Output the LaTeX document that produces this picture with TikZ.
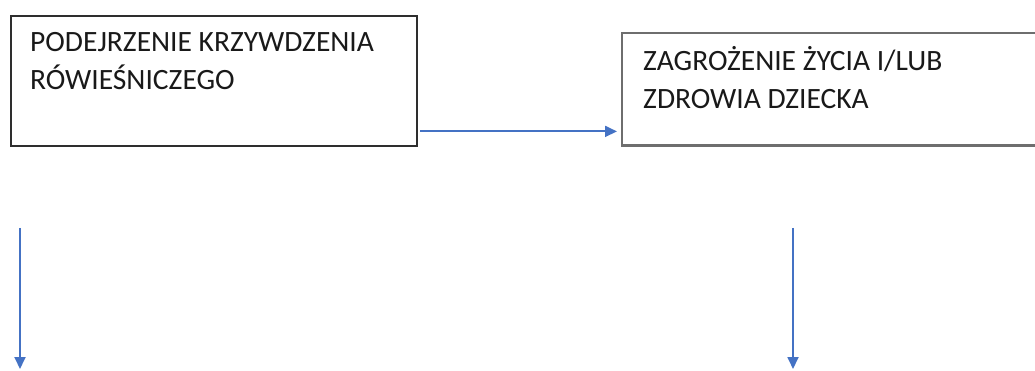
\documentclass[tikz,border=0pt]{standalone}
\usepackage{fontspec}
\setmainfont{Carlito}
\usetikzlibrary{arrows.meta,positioning}
\definecolor{linkblue}{HTML}{4472C4}
\definecolor{framedark}{HTML}{2E2E2E}
\definecolor{framegray}{HTML}{6E6E6E}
\tikzset{
    frame/.style={draw=framedark, line width=2.4pt, anchor=north west, inner sep=0pt},
    boxtext/.style={anchor=north west, inner sep=0pt, align=left, text=black!90,
        font=\fontsize{29.5}{38}\selectfont},
    link/.style={draw=linkblue, line width=1.8pt, -{Triangle[length=12pt,width=11pt]}}
}
\begin{document}
\begin{tikzpicture}[x=1pt, y=1pt]
                    \useasboundingbox (0,0) rectangle (1035,-371);
                    \node[frame, minimum width=406pt, minimum height=130pt] (podejrzenie) at (10,-15) {};
                    % box runs off the right edge of the picture
                    \node[frame, draw=none, minimum width=413pt, minimum height=110pt] (zagrozenie) at (622,-33) {};
                    \draw[framegray, line width=2.4pt] (zagrozenie.north east) -- (zagrozenie.north west)
                        -- (zagrozenie.south west) -- (zagrozenie.south east);
                    \node[boxtext, below right=10pt and 20pt of podejrzenie.north west]
                        (podejrzenietxt) {\strut PODEJRZENIE KRZYWDZENIA\\ RÓWIEŚNICZEGO};
                    \node[boxtext, below right=11pt and 21pt of zagrozenie.north west]
                        (zagrozenietxt) {\strut ZAGROŻENIE ŻYCIA I/LUB\\ ZDROWIA DZIECKA};
                    \coordinate (lewystart) at (20,-228);
                    \coordinate (lewykoniec) at (20,-369);
                    \coordinate (prawystart) at (793,-228);
                    \coordinate (prawykoniec) at (793,-369);
                    \draw[link, shorten <=2pt, shorten >=5pt] ([yshift=16pt]podejrzenie.south east) -- ([yshift=14pt]zagrozenie.south west);
                    \draw[link] (lewystart) -- (lewykoniec);
                    \draw[link] (prawystart) -- (prawykoniec);
                \end{tikzpicture}
\end{document}
